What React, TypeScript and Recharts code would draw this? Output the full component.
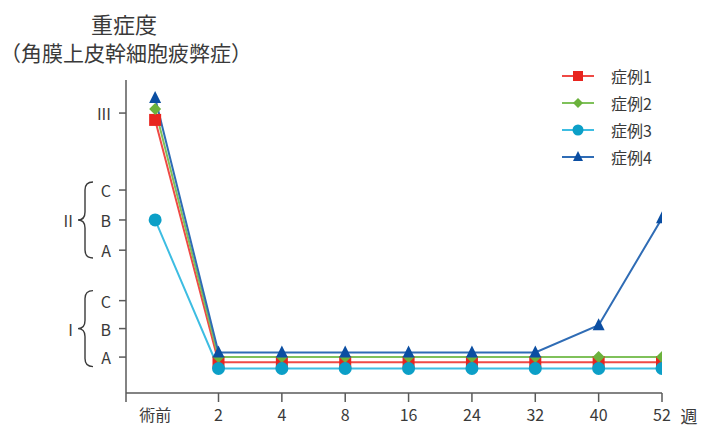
import React from 'react';
import { LineChart, Line, XAxis, YAxis } from 'recharts';

const periods = ['術前', '2', '4', '8', '16', '24', '32', '40', '52'];

// severity positions (I-A .. III) on a linear scale
const severityTicks = [1, 2, 2.98, 4.75, 5.81, 6.86, 9.56];
const severityLetters = ['A', 'B', 'C', 'A', 'B', 'C', 'III'];
const groupNames = ['', 'I', '', '', 'II', '', ''];

const case1 = [9.32, 0.82, 0.82, 0.82, 0.82, 0.82, 0.82, 0.82, 0.82];
const case2 = [9.7, 1.0, 1.0, 1.0, 1.0, 1.0, 1.0, 1.0, 1.0];
const case3 = [5.81, 0.6, 0.6, 0.6, 0.6, 0.6, 0.6, 0.6, 0.6];
const case4 = [10.09, 1.16, 1.16, 1.16, 1.16, 1.16, 1.16, 2.12, 5.87];

const series = [
  { key: 'c1', name: '症例1', values: case1, line: '#ef4a45', mark: '#e8241e', shape: 'square' },
  { key: 'c2', name: '症例2', values: case2, line: '#7fc15a', mark: '#6bb23c', shape: 'diamond' },
  { key: 'c3', name: '症例3', values: case3, line: '#3dbde2', mark: '#0c9fc7', shape: 'circle' },
  { key: 'c4', name: '症例4', values: case4, line: '#2f6cb5', mark: '#0b4ea2', shape: 'triangle' },
];

const data = periods.map((p, i) => {
  const row: any = { idx: i, label: p };
  series.forEach((s) => (row[s.key] = s.values[i]));
  return row;
});

const FONT = '"Noto Sans CJK JP", "Noto Sans", sans-serif';
const TEXT = '#3a3a3a';
const AXIS = '#5a5a5a';
const AXIS_X = 126;
const AXIS_Y = 393;
const X_MIN = -0.46;

const Marker = ({ shape, cx, cy, color, size = 12 }: any) => {
  const h = size / 2;
  if (shape === 'square') return <rect x={cx - h} y={cy - h} width={size} height={size} fill={color} />;
  if (shape === 'diamond')
    return <polygon points={`${cx},${cy - h} ${cx + h},${cy} ${cx},${cy + h} ${cx - h},${cy}`} fill={color} />;
  if (shape === 'circle') return <circle cx={cx} cy={cy} r={h + 0.5} fill={color} />;
  return <polygon points={`${cx},${cy - h - 1} ${cx + h},${cy + h - 1} ${cx - h},${cy + h - 1}`} fill={color} />;
};

const SeverityTick = (props: any) => {
  const { y, payload } = props;
  const i = severityTicks.indexOf(payload.value);
  const group = groupNames[i];
  return (
    <g>
      <line x1={AXIS_X - 7} x2={AXIS_X} y1={y} y2={y} stroke={AXIS} strokeWidth={1.5} />
      <text x={AXIS_X - 15} y={y} textAnchor="end" dominantBaseline="central" fontSize={16} fill={TEXT} fontFamily={FONT}>
        {severityLetters[i]}
      </text>
      {group && (
        <>
          <path
            d={`M93 ${y - 38} Q85 ${y - 38} 85 ${y - 30} L85 ${y - 8} Q85 ${y} 78 ${y} Q85 ${y} 85 ${y + 8} L85 ${y + 30} Q85 ${y + 38} 93 ${y + 38}`}
            fill="none"
            stroke={TEXT}
            strokeWidth={1.4}
          />
          <text x={73} y={y} textAnchor="end" dominantBaseline="central" fontSize={16} fill={TEXT} fontFamily={FONT}>
            {group}
          </text>
        </>
      )}
    </g>
  );
};

const PeriodTick = (props: any) => {
  const { x, payload } = props;
  const v = payload.value;
  const isCat = Number.isInteger(v);
  return (
    <g>
      {v !== 0 && <line x1={x} x2={x} y1={AXIS_Y} y2={AXIS_Y + 9} stroke={AXIS} strokeWidth={1.5} />}
      {isCat && (
        <text x={x} y={AXIS_Y + 21} textAnchor="middle" dominantBaseline="central" fontSize={16} fill={TEXT} fontFamily={FONT}>
          {periods[v]}
        </text>
      )}
      {v === periods.length - 1 && (
        <text x={x + 27} y={AXIS_Y + 22} textAnchor="middle" dominantBaseline="central" fontSize={17} fill={TEXT} fontFamily={FONT}>
          週
        </text>
      )}
    </g>
  );
};

export default function App() {
  return (
    <div style={{ position: 'relative', width: 717, height: 445, fontFamily: FONT, background: '#fff' }}>
      <style>{'body{margin:0}'}</style>
      <div style={{ position: 'absolute', left: 0, width: 248, top: 9, textAlign: 'center', fontSize: 22, color: TEXT, lineHeight: '28px' }}>
        重症度
      </div>
      <div style={{ position: 'absolute', left: 0, width: 248, top: 38, textAlign: 'center', fontSize: 21, color: TEXT, lineHeight: '28px', whiteSpace: 'nowrap' }}>
        （角膜上皮幹細胞疲弊症）
      </div>
      <LineChart width={717} height={445} data={data} margin={{ top: 80, right: 55, bottom: 22, left: 66 }}>
        <XAxis
          dataKey="idx"
          type="number"
          domain={[X_MIN, periods.length - 1]}
          ticks={[X_MIN, ...periods.map((_, i) => i)]}
          allowDataOverflow
          height={30}
          axisLine={{ stroke: AXIS, strokeWidth: 1.5 }}
          tickLine={false}
          tick={<PeriodTick />}
          interval={0}
        />
        <YAxis
          type="number"
          domain={[-0.26, 10.72]}
          ticks={severityTicks}
          allowDataOverflow
          width={60}
          axisLine={{ stroke: AXIS, strokeWidth: 1.5 }}
          tickLine={false}
          tick={<SeverityTick />}
          interval={0}
        />
        {series.map((s) => (
          <Line
            key={s.key}
            dataKey={s.key}
            name={s.name}
            type="linear"
            stroke={s.line}
            strokeWidth={2}
            isAnimationActive={false}
            activeDot={false}
            dot={(p: any) => <Marker key={`${s.key}-${p.index}`} shape={s.shape} cx={p.cx} cy={p.cy} color={s.mark} />}
          />
        ))}
      </LineChart>
      <div style={{ position: 'absolute', left: 560, top: 62 }}>
        {series.map((s) => (
          <div key={s.key} style={{ display: 'flex', alignItems: 'center', height: 27 }}>
            <svg width={36} height={16}>
              <line x1={2} x2={34} y1={8} y2={8} stroke={s.line} strokeWidth={2} />
              <Marker shape={s.shape} cx={18} cy={8} color={s.mark} size={10} />
            </svg>
            <span style={{ marginLeft: 15, fontSize: 16, color: TEXT }}>{s.name}</span>
          </div>
        ))}
      </div>
    </div>
  );
}
